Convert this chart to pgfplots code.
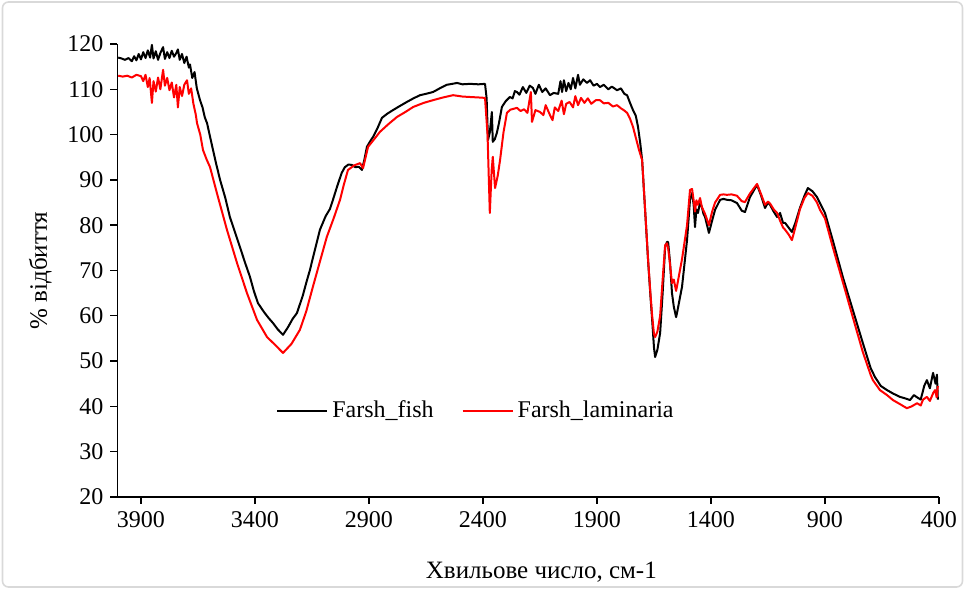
\documentclass[border=0pt]{standalone}
\usepackage{pgfplots}
\pgfplotsset{compat=1.18}
\usepackage{fontspec}
\setmainfont{Liberation Serif}

\pgfplotstableread{
x y
4000 117.0
3985 116.8
3970 116.5
3955 116.9
3940 116.2
3930 117.3
3920 116.4
3910 117.8
3900 116.6
3890 118.2
3880 116.9
3870 118.6
3860 117.0
3852 119.8
3845 116.8
3835 118.4
3825 116.5
3815 118.0
3803 119.3
3795 116.7
3785 118.2
3775 116.9
3765 118.5
3755 117.2
3745 118.0
3738 118.8
3730 116.5
3720 117.8
3710 115.8
3700 117.2
3690 114.8
3685 115.5
3675 112.5
3665 113.8
3655 110.2
3641 107.6
3630 106.0
3620 103.8
3610 102.5
3600 100.2
3584 96.6
3570 93.5
3553 90.0
3530 86.0
3510 81.8
3488 78.5
3466 75.2
3444 71.8
3422 68.6
3405 65.5
3387 62.8
3360 60.8
3340 59.5
3321 58.4
3300 57.0
3277 55.8
3255 57.5
3235 59.3
3216 60.6
3190 64.5
3175 67.3
3159 70.1
3140 74.0
3115 79.0
3090 82.0
3071 83.6
3058 85.6
3040 88.5
3020 91.5
3006 92.8
2990 93.4
2975 93.3
2960 92.8
2945 92.9
2931 92.2
2920 94.5
2909 97.3
2895 98.5
2882 99.5
2862 101.5
2843 103.7
2820 104.6
2795 105.4
2765 106.3
2734 107.2
2705 108.0
2676 108.7
2650 109.0
2619 109.4
2590 110.2
2558 111.0
2535 111.2
2514 111.4
2490 111.1
2457 111.2
2420 111.1
2391 111.2
2384 108.0
2378 98.8
2370 100.5
2361 105.0
2357 98.4
2348 99.0
2339 100.4
2330 102.5
2317 106.1
2300 107.4
2282 108.3
2270 108.0
2260 109.6
2251 109.4
2240 108.8
2225 110.5
2210 109.2
2195 110.8
2181 110.3
2170 109.0
2155 111.0
2140 109.4
2125 110.2
2106 108.7
2090 109.2
2070 109.0
2060 111.8
2053 109.4
2045 112.0
2035 109.6
2025 111.4
2015 110.0
2005 112.5
1995 110.2
1983 113.2
1975 111.0
1960 112.2
1944 111.4
1930 112.0
1915 110.8
1900 111.2
1887 110.5
1870 111.0
1850 110.0
1835 110.6
1812 109.8
1795 110.2
1780 109.0
1768 108.7
1755 107.0
1742 105.4
1730 104.2
1720 101.7
1710 98.0
1702 94.4
1689 83.4
1676 72.3
1665 64.0
1658 59.1
1650 53.0
1645 50.9
1635 52.5
1623 56.2
1612 65.0
1601 75.2
1593 76.3
1588 76.3
1580 72.0
1571 65.0
1563 62.0
1553 59.7
1549 60.6
1540 63.0
1527 66.4
1505 76.7
1492 85.6
1483 87.1
1476 84.5
1470 79.6
1464 83.5
1457 82.7
1448 85.0
1440 84.0
1433 82.5
1426 81.8
1409 78.3
1395 81.0
1382 83.4
1360 85.6
1345 85.8
1330 85.6
1310 85.5
1286 84.9
1265 83.2
1251 82.9
1229 86.2
1198 88.9
1180 86.5
1163 83.8
1150 85.0
1141 84.5
1125 83.0
1110 81.8
1097 82.7
1084 80.5
1075 80.5
1060 79.5
1045 78.5
1030 80.5
1010 83.8
990 86.5
975 88.2
955 87.5
935 86.2
922 84.9
900 82.7
866 76.7
822 68.6
778 61.3
734 54.0
700 48.5
681 46.5
655 44.5
628 43.6
600 42.8
571 42.1
550 41.8
527 41.4
510 42.5
496 42.0
480 41.5
465 44.5
453 45.8
440 44.0
426 47.4
415 45.0
409 47.0
405 41.5
}\fish

\pgfplotstableread{
x y
4000 113.0
3980 112.8
3960 113.0
3940 112.6
3920 113.2
3900 112.9
3890 111.8
3880 113.2
3870 110.5
3862 112.5
3852 107.0
3845 111.8
3835 109.5
3825 112.6
3815 110.0
3803 114.3
3795 110.8
3785 112.5
3775 109.8
3765 111.5
3755 108.2
3745 111.0
3738 106.0
3730 110.5
3720 108.5
3710 111.0
3698 112.0
3690 109.0
3680 110.2
3670 106.8
3660 104.5
3654 102.5
3640 100.0
3628 96.6
3612 94.5
3597 92.8
3567 87.1
3523 79.0
3479 71.7
3435 65.0
3391 59.1
3347 55.3
3310 53.5
3277 51.8
3240 53.8
3203 56.9
3175 61.0
3146 66.4
3115 72.0
3085 77.4
3055 81.5
3027 85.6
3010 89.0
2992 92.2
2965 93.2
2939 93.7
2926 92.6
2904 97.3
2880 98.8
2852 100.6
2815 102.3
2777 103.9
2740 105.0
2706 106.1
2660 107.0
2619 107.6
2575 108.2
2531 108.7
2490 108.4
2457 108.3
2420 108.2
2391 108.1
2380 100.0
2370 82.7
2362 92.0
2357 95.1
2347 88.2
2335 91.0
2325 94.4
2310 100.5
2295 104.8
2280 105.5
2251 105.9
2235 105.2
2220 105.6
2205 104.8
2190 109.4
2185 102.8
2170 105.4
2150 105.0
2135 104.3
2125 106.5
2106 104.3
2095 103.2
2085 106.0
2070 105.2
2055 107.5
2045 104.5
2035 106.8
2020 107.2
2005 106.0
1995 108.5
1983 106.5
1970 108.1
1955 107.0
1940 108.0
1925 106.8
1905 107.6
1887 107.6
1870 106.9
1850 107.0
1830 106.2
1812 106.5
1795 105.8
1780 105.3
1768 104.8
1755 103.5
1742 101.7
1728 99.0
1715 96.5
1702 94.4
1689 83.5
1676 72.5
1665 64.5
1658 60.0
1650 56.0
1645 55.3
1635 56.5
1623 60.0
1612 68.0
1601 75.6
1593 76.0
1588 75.0
1580 71.5
1571 67.2
1563 68.0
1553 65.5
1549 66.5
1540 69.0
1527 72.5
1505 80.0
1492 87.8
1483 88.0
1476 85.5
1470 83.0
1464 85.5
1457 84.5
1448 86.0
1440 84.0
1426 82.5
1409 80.0
1395 83.0
1382 85.0
1360 86.7
1345 86.8
1330 86.7
1310 86.8
1286 86.5
1265 85.3
1251 85.1
1229 87.0
1198 89.1
1180 86.8
1163 84.5
1150 85.2
1141 84.8
1125 83.5
1110 82.7
1097 81.0
1084 79.5
1075 79.0
1060 78.0
1045 76.7
1030 79.5
1010 83.5
990 86.0
975 87.1
955 86.5
935 85.0
922 83.4
900 81.5
866 75.2
822 67.5
778 59.7
734 52.0
700 47.0
690 45.8
659 43.6
628 42.5
602 41.4
571 40.5
541 39.6
520 40.0
496 40.7
480 40.2
470 41.5
453 42.1
440 41.2
425 43.0
417 43.6
410 42.0
405 44.5
}\laminaria

\begin{document}
\begin{tikzpicture}
\begin{axis}[
    at={(0pt,0pt)}, anchor=south west,
    scale only axis,
    width=410.75pt, height=226.5pt,
    xmin=400, xmax=4003, ymin=20, ymax=120,
    x dir=reverse,
    axis x line=bottom, axis y line=left,
    axis line style={-, line width=0.7pt},
    xtick={3900,3400,2900,2400,1900,1400,900,400},
    ytick={20,30,...,120},
    tick align=outside,
    major tick length=3.5pt,
    tick style={black, line width=0.7pt},
    /pgf/number format/assume math mode=true,
    /pgf/number format/1000 sep={},
    ticklabel style={font=\fontsize{12}{14}\selectfont},
    xlabel={Хвильове число, см-1},
    ylabel={\% відбиття},
    label style={font=\fontsize{12.5}{15}\selectfont},
    x label style={at={(axis description cs:0.516,-0.165)}, anchor=center},
    y label style={at={(axis description cs:-0.094,0.5)}, anchor=center, rotate=0},
    legend style={draw=none, fill=none, legend columns=2,
        at={(axis description cs:0.4376,0.19)}, anchor=center,
        font=\fontsize{12}{14}\selectfont,
        /tikz/every even column/.append style={column sep=12pt}},
    legend image code/.code={\draw[#1] (0pt,0pt) -- (25pt,0pt);},
]
\addplot[black, line width=1pt, line join=round] table[x=x, y=y] {\fish};
\addlegendentry{Farsh\_fish}
\addplot[red, line width=1pt, line join=round] table[x=x, y=y] {\laminaria};
\addlegendentry{Farsh\_laminaria}
\end{axis}
\pgfresetboundingbox
\path (-58.75pt,-46pt) rectangle (423.75pt,248.5pt);
\draw[black!15, line width=0.8pt, rounded corners=3pt] (-57.5pt,-45pt) rectangle (422.5pt,247.5pt);
\end{tikzpicture}
\end{document}
